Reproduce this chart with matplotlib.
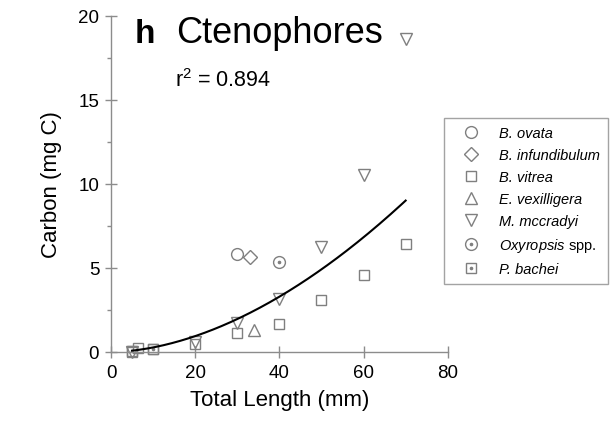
import matplotlib
matplotlib.use("Agg")
import matplotlib.pyplot as plt
import numpy as np

plt.rcParams['font.family'] = ['Liberation Sans', 'DejaVu Sans']
plt.rcParams['mathtext.fontset'] = 'custom'
plt.rcParams['mathtext.rm'] = 'Liberation Sans'
plt.rcParams['mathtext.it'] = 'Liberation Sans:italic'

# Data (Total length mm, Carbon mg C)
ovata_x = [30]
ovata_y = [5.8]
infund_x = [33]
infund_y = [5.65]
vitrea_x = [5, 6.5, 10, 20, 30, 40, 50, 60, 70]
vitrea_y = [0.0, 0.25, 0.2, 0.5, 1.15, 1.65, 3.1, 4.6, 6.4]
vexill_x = [34]
vexill_y = [1.3]
mccradyi_x = [5, 20, 30, 40, 50, 60, 70]
mccradyi_y = [0.0, 0.6, 1.7, 3.15, 6.25, 10.55, 18.6]
oxy_x = [40]
oxy_y = [5.35]
bachei_x = [5, 10]
bachei_y = [0.05, 0.15]

# power fit C = a * L^b
fit_a = 0.0043
fit_b = 1.8
fit_xmin, fit_xmax = 5, 70
r2_text = "0.894"

GRAY = '#7f7f7f'
SPINE = '#8c8c8c'

fig = plt.figure(figsize=(6.10, 4.31), dpi=100)
ax = fig.add_axes([0.182, 0.181, 0.552, 0.780])

mk = dict(linestyle='none', markerfacecolor='none', markeredgecolor=GRAY,
          markeredgewidth=1.0, clip_on=False)
dot = dict(linestyle='none', marker='o', markersize=1.6, color=GRAY, clip_on=False)

h1, = ax.plot(ovata_x, ovata_y, marker='o', markersize=8.5, **mk)
h2, = ax.plot(infund_x, infund_y, marker='D', markersize=7, **mk)
h3, = ax.plot(vitrea_x, vitrea_y, marker='s', markersize=7.5, **mk)
h4, = ax.plot(vexill_x, vexill_y, marker='^', markersize=8.5, **mk)
h5, = ax.plot(mccradyi_x, mccradyi_y, marker='v', markersize=8.5, **mk)
h6, = ax.plot(oxy_x, oxy_y, marker='o', markersize=8.5, **mk)
h6d, = ax.plot(oxy_x, oxy_y, **dot)
h7, = ax.plot(bachei_x, bachei_y, marker='s', markersize=7.5, **mk)
h7d, = ax.plot(bachei_x, bachei_y, **dot)

xf = np.linspace(fit_xmin, fit_xmax, 200)
ax.plot(xf, fit_a * xf ** fit_b, color='black', lw=1.5)

ax.set_xlim(0, 80)
ax.set_ylim(0, 20)
ax.set_xticks([0, 20, 40, 60, 80])
ax.set_yticks([0, 5, 10, 15, 20])
ax.set_yticks(np.arange(2.5, 20, 5), minor=True)
for s in ['top', 'right']:
    ax.spines[s].set_visible(False)
for s in ['left', 'bottom']:
    ax.spines[s].set_color(SPINE)
    ax.spines[s].set_linewidth(1.0)
ax.tick_params(which='major', direction='inout', length=9, width=1.0,
               color=SPINE, labelsize=13.5, pad=4)
ax.tick_params(which='minor', direction='out', length=3, width=1.0, color=SPINE)

ax.set_xlabel('Total Length (mm)', fontsize=16, labelpad=6)
ax.set_ylabel('Carbon (mg C)', fontsize=16, labelpad=12)

fig.text(0.221, 0.90, 'h', fontsize=24, fontweight='bold')
fig.text(0.288, 0.90, 'Ctenophores', fontsize=26)
fig.text(0.287, 0.798, r'r$^2$ = ' + r2_text, fontsize=15.5)

leg = fig.legend([h1, h2, h3, h4, h5, (h6, h6d), (h7, h7d)],
                 ['B. ovata', 'B. infundibulum', 'B. vitrea', 'E. vexilligera',
                  'M. mccradyi', 'Oxyropsis spp.', 'P. bachei'],
                 loc='upper left', bbox_to_anchor=(0.728, 0.724), borderaxespad=0,
                 fontsize=10.5, frameon=True, fancybox=False, edgecolor=SPINE,
                 handlelength=2.6, handletextpad=0.6, labelspacing=0.55,
                 borderpad=0.55)
leg.get_frame().set_linewidth(1.0)
for t in leg.get_texts():
    t.set_fontstyle('italic')
# genus name of Oxyropsis spp. only partly italic in the reference
leg.get_texts()[5].set_text(r'$\mathit{Oxyropsis}$ spp.')
leg.get_texts()[5].set_fontstyle('normal')

fig.savefig('out.png', dpi=100)
